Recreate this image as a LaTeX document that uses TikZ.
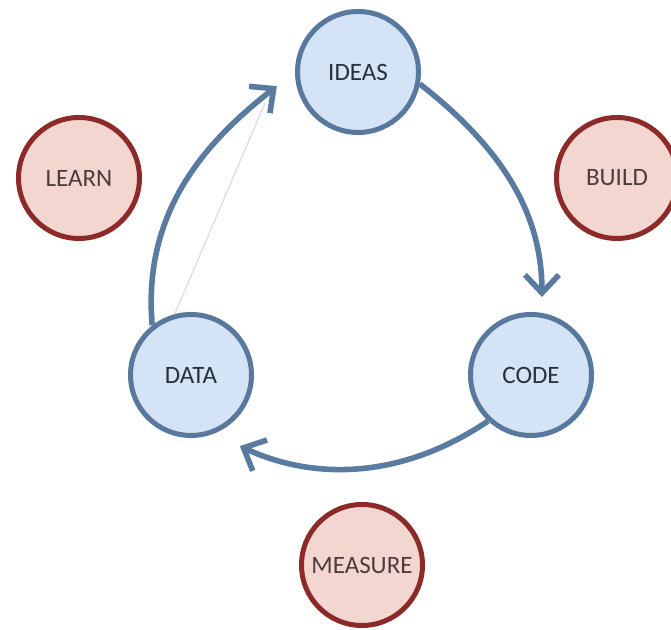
\documentclass[tikz,border=0pt]{standalone}
\usepackage{fontspec}
\setmainfont{Carlito}
\usetikzlibrary{arrows.meta}
\definecolor{stageline}{HTML}{58789E}
\definecolor{stagefill}{HTML}{D4E3F5}
\definecolor{stagetext}{HTML}{27303D}
\definecolor{phaseline}{HTML}{8C2A2A}
\definecolor{phasefill}{HTML}{F3D6D0}
\definecolor{phasetext}{HTML}{4E3B3B}
\definecolor{flowline}{HTML}{5A7BA1}

\begin{document}
\begin{tikzpicture}[x=0.5pt,y=0.5pt,
    stage/.style={circle,draw=stageline,fill=stagefill,line width=2.5pt,minimum size=60.5pt,
                  inner sep=0pt,text=stagetext,font=\fontsize{12.5}{15}\selectfont},
    phase/.style={stage,draw=phaseline,fill=phasefill,text=phasetext},
    flow/.style={draw=flowline,line width=2.8pt,-{Straight Barb[length=9pt,width=17pt]}},
    glint/.style={draw=gray!35,line width=0.4pt}]
  \useasboundingbox (0,0) rectangle (671,630);
  % blue ring: ideas -> code -> data
  \foreach \n/\p/\t in {ideas/{358,558}/IDEAS,code/{531,255}/CODE,data/{191,255}/DATA}
    {\node[stage] (\n) at (\p) {\t};}
  % red steps in between
  \foreach \n/\p/\t in {build/{617,452}/BUILD,measure/{362,65}/MEASURE,learn/{79,452}/LEARN}
    {\node[phase] (\n) at (\p) {\t};}
  \draw[flow,shorten >=8pt] (ideas.-11) to[out=-38,in=90] (code.80);
  \draw[flow,shorten >=14.5pt] (code.227) to[out=214,in=-25] (data.-69);
  \draw[flow,shorten >=11.5pt] (data.128) to[out=95,in=218] (ideas.west);
  \coordinate (glintend) at (265,527);
  \draw[glint] (data.105) -- (glintend);
\end{tikzpicture}
\end{document}
